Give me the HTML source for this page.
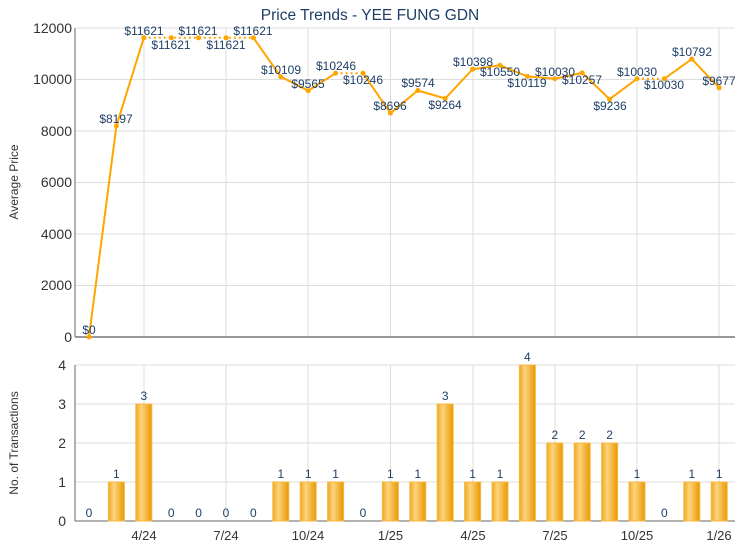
<!DOCTYPE html>
<html><head><meta charset="utf-8"><style>
body{margin:0;background:#fff}
svg{font-family:"Liberation Sans",Arial,sans-serif}
.l{font-size:12px;fill:#1f3f66;text-anchor:middle}
.t{font-size:12px;fill:#333}
.y{font-size:14px;fill:#333;text-anchor:end}
</style></head><body>
<svg width="740" height="550" viewBox="0 0 740 550" xmlns="http://www.w3.org/2000/svg">
<defs>
<linearGradient id="g" x1="0" x2="1" y1="0" y2="0">
<stop offset="0" stop-color="#f0a820"/><stop offset="0.35" stop-color="#fdd47e"/><stop offset="1" stop-color="#e89800"/>
</linearGradient>
</defs>
<text x="370" y="20" text-anchor="middle" style="font-size:15.5px;fill:#1f3f66">Price Trends - YEE FUNG GDN</text>
<g stroke="#ddd" stroke-width="1">
<line x1="75" x2="735" y1="28" y2="28"/><line x1="75" x2="735" y1="79.5" y2="79.5"/><line x1="75" x2="735" y1="131" y2="131"/><line x1="75" x2="735" y1="182.5" y2="182.5"/><line x1="75" x2="735" y1="234" y2="234"/><line x1="75" x2="735" y1="285.5" y2="285.5"/>
<line x1="75" x2="735" y1="365" y2="365"/><line x1="75" x2="735" y1="404" y2="404"/><line x1="75" x2="735" y1="443" y2="443"/><line x1="75" x2="735" y1="482" y2="482"/>
<line x1="144" x2="144" y1="28" y2="337"/><line x1="226" x2="226" y1="28" y2="337"/><line x1="308" x2="308" y1="28" y2="337"/><line x1="390.5" x2="390.5" y1="28" y2="337"/><line x1="473" x2="473" y1="28" y2="337"/><line x1="555" x2="555" y1="28" y2="337"/><line x1="637" x2="637" y1="28" y2="337"/><line x1="719" x2="719" y1="28" y2="337"/>
<line x1="144" x2="144" y1="365" y2="521"/><line x1="226" x2="226" y1="365" y2="521"/><line x1="308" x2="308" y1="365" y2="521"/><line x1="390.5" x2="390.5" y1="365" y2="521"/><line x1="473" x2="473" y1="365" y2="521"/><line x1="555" x2="555" y1="365" y2="521"/><line x1="637" x2="637" y1="365" y2="521"/><line x1="719" x2="719" y1="365" y2="521"/>
</g>
<line x1="75" x2="75" y1="28" y2="337" stroke="#666"/>
<line x1="75" x2="735" y1="337" y2="337" stroke="#999" stroke-width="2"/>
<line x1="75" x2="75" y1="365" y2="521" stroke="#666"/>
<line x1="75" x2="735" y1="521" y2="521" stroke="#666"/>
<g class="y">
<text x="72" y="33">12000</text><text x="72" y="84">10000</text><text x="72" y="136">8000</text><text x="72" y="187">6000</text><text x="72" y="239">4000</text><text x="72" y="290">2000</text><text x="72" y="342">0</text>
<text x="66" y="370">4</text><text x="66" y="409">3</text><text x="66" y="448">2</text><text x="66" y="487">1</text><text x="66" y="526">0</text>
</g>
<g class="t" text-anchor="middle" style="font-size:13px">
<text x="144" y="540">4/24</text><text x="226" y="540">7/24</text><text x="308" y="540">10/24</text><text x="390.5" y="540">1/25</text><text x="473" y="540">4/25</text><text x="555" y="540">7/25</text><text x="637" y="540">10/25</text><text x="719" y="540">1/26</text>
</g>
<text transform="translate(18,182) rotate(-90)" text-anchor="middle" style="font-size:12px;fill:#333">Average Price</text>
<text transform="translate(18,443) rotate(-90)" text-anchor="middle" style="font-size:12px;fill:#333">No. of Transactions</text>
<g fill="none" stroke="#ffa500" stroke-width="2">
<polyline points="89,337 116.4,125.9 143.8,37.8"/>
<polyline points="253.4,37.8 280.8,76.7 308.2,90.7 335.6,73.2"/>
<polyline points="363,73.2 390.4,113.1 417.8,90.5 445.2,98.5 472.6,69.2 500,65.3 527.4,76.4 554.8,78.7 582.2,72.9 609.6,99.2 637,78.7"/>
<polyline points="664.4,78.7 691.8,59.1 719.2,87.8"/>
<polyline stroke-dasharray="2,3" points="143.8,37.8 253.4,37.8"/>
<polyline stroke-dasharray="2,3" points="335.6,73.2 363,73.2"/>
<polyline stroke-dasharray="2,3" points="637,78.7 664.4,78.7"/>
</g>
<g fill="#ffa500">
<circle cx="89" cy="337" r="2.5"/><circle cx="116.4" cy="125.9" r="2.5"/><circle cx="143.8" cy="37.8" r="2.5"/><circle cx="171.2" cy="37.8" r="2.5"/><circle cx="198.6" cy="37.8" r="2.5"/><circle cx="226" cy="37.8" r="2.5"/><circle cx="253.4" cy="37.8" r="2.5"/><circle cx="280.8" cy="76.7" r="2.5"/><circle cx="308.2" cy="90.7" r="2.5"/><circle cx="335.6" cy="73.2" r="2.5"/><circle cx="363" cy="73.2" r="2.5"/><circle cx="390.4" cy="113.1" r="2.5"/><circle cx="417.8" cy="90.5" r="2.5"/><circle cx="445.2" cy="98.5" r="2.5"/><circle cx="472.6" cy="69.2" r="2.5"/><circle cx="500" cy="65.3" r="2.5"/><circle cx="527.4" cy="76.4" r="2.5"/><circle cx="554.8" cy="78.7" r="2.5"/><circle cx="582.2" cy="72.9" r="2.5"/><circle cx="609.6" cy="99.2" r="2.5"/><circle cx="637" cy="78.7" r="2.5"/><circle cx="664.4" cy="78.7" r="2.5"/><circle cx="691.8" cy="59.1" r="2.5"/><circle cx="719.2" cy="87.8" r="2.5"/>
</g>
<g class="l">
<text x="89" y="334">$0</text><text x="116" y="123">$8197</text><text x="144" y="35">$11621</text><text x="171" y="49">$11621</text><text x="198" y="35">$11621</text><text x="226" y="49">$11621</text><text x="253" y="35">$11621</text><text x="281" y="74">$10109</text><text x="308" y="88">$9565</text><text x="336" y="70">$10246</text><text x="363" y="84">$10246</text><text x="390" y="110">$8696</text><text x="418" y="87">$9574</text><text x="445" y="109">$9264</text><text x="473" y="66">$10398</text><text x="500" y="76">$10550</text><text x="527" y="87">$10119</text><text x="555" y="76">$10030</text><text x="582" y="84">$10257</text><text x="610" y="110">$9236</text><text x="637" y="76">$10030</text><text x="664" y="89">$10030</text><text x="692" y="56">$10792</text><text x="719" y="85">$9677</text>
</g>
<g fill="url(#g)" stroke="#f5b840" stroke-width="1">
<rect x="108.4" y="482" width="16" height="39"/><rect x="135.8" y="404" width="16" height="117"/>
<rect x="272.8" y="482" width="16" height="39"/><rect x="300.2" y="482" width="16" height="39"/><rect x="327.6" y="482" width="16" height="39"/>
<rect x="382.4" y="482" width="16" height="39"/><rect x="409.8" y="482" width="16" height="39"/><rect x="437.2" y="404" width="16" height="117"/><rect x="464.6" y="482" width="16" height="39"/><rect x="492" y="482" width="16" height="39"/><rect x="519.4" y="365" width="16" height="156"/><rect x="546.8" y="443" width="16" height="78"/><rect x="574.2" y="443" width="16" height="78"/><rect x="601.6" y="443" width="16" height="78"/><rect x="629" y="482" width="16" height="39"/>
<rect x="683.8" y="482" width="16" height="39"/><rect x="711.2" y="482" width="16" height="39"/>
</g>
<g class="l">
<text x="89" y="517">0</text><text x="116.4" y="478">1</text><text x="143.8" y="400">3</text><text x="171.2" y="517">0</text><text x="198.6" y="517">0</text><text x="226" y="517">0</text><text x="253.4" y="517">0</text><text x="280.8" y="478">1</text><text x="308.2" y="478">1</text><text x="335.6" y="478">1</text><text x="363" y="517">0</text><text x="390.4" y="478">1</text><text x="417.8" y="478">1</text><text x="445.2" y="400">3</text><text x="472.6" y="478">1</text><text x="500" y="478">1</text><text x="527.4" y="361">4</text><text x="554.8" y="439">2</text><text x="582.2" y="439">2</text><text x="609.6" y="439">2</text><text x="637" y="478">1</text><text x="664.4" y="517">0</text><text x="691.8" y="478">1</text><text x="719.2" y="478">1</text>
</g>
</svg>
</body></html>
